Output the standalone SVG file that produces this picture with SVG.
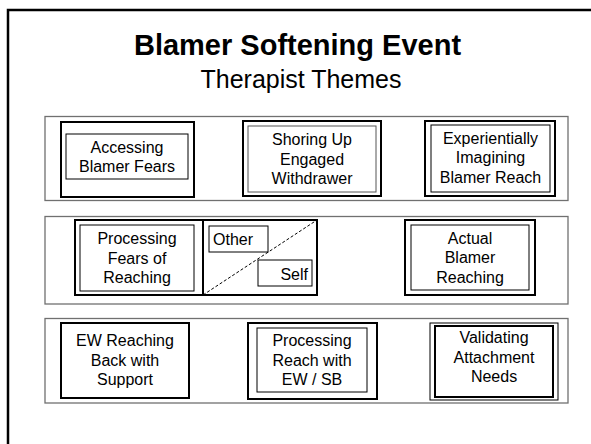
<svg xmlns="http://www.w3.org/2000/svg" width="591" height="444" viewBox="0 0 591 444">
<style>
text{font-family:"Liberation Sans",Arial,sans-serif;fill:#000}
.t{font-size:16px;text-anchor:middle}
.panel{fill:#fff;stroke:#707070;stroke-width:1.3}
.thick{fill:none;stroke:#000;stroke-width:2}
.thin{fill:none;stroke:#000;stroke-width:1}
.grey{fill:none;stroke:#555;stroke-width:1}
</style>
<rect x="0" y="0" width="591" height="444" fill="#fff"/>
<rect id="frame" x="8" y="10" width="620" height="460" fill="none" stroke="#000" stroke-width="2.5"/>
<g id="title">
<text x="297.5" y="55" font-size="29" font-weight="bold" text-anchor="middle">Blamer Softening Event</text>
<text x="301" y="88" font-size="25" text-anchor="middle">Therapist Themes</text>
</g>
<g id="row1">
<rect class="panel" x="45" y="116.5" width="523" height="84"/>
<g id="accessing">
<rect class="thick" x="61" y="122" width="133" height="75"/>
<rect class="thin" x="66" y="134" width="122" height="45"/>
<text class="t" x="127" y="152.5">Accessing</text>
<text class="t" x="127" y="172">Blamer Fears</text>
</g>
<g id="shoring">
<rect class="thick" x="243" y="121" width="138" height="75"/>
<rect class="grey" x="248" y="126" width="128" height="66"/>
<text class="t" x="312" y="145">Shoring Up</text>
<text class="t" x="312" y="164.5">Engaged</text>
<text class="t" x="312" y="184">Withdrawer</text>
</g>
<g id="experientially">
<rect class="thick" x="425" y="121" width="130" height="75"/>
<rect class="thin" x="431" y="125" width="119" height="67"/>
<text class="t" x="490.5" y="143.5">Experientially</text>
<text class="t" x="490.5" y="163">Imagining</text>
<text class="t" x="490.5" y="182.5">Blamer Reach</text>
</g>
</g>
<g id="row2">
<rect class="panel" x="45" y="216.5" width="523" height="87.5"/>
<g id="processing-fears">
<rect class="thick" x="75" y="220" width="242" height="75"/>
<line x1="203" y1="220" x2="203" y2="295" stroke="#000" stroke-width="2"/>
<rect class="thin" x="80" y="225" width="114" height="66"/>
<text class="t" x="137" y="244">Processing</text>
<text class="t" x="137" y="263.5">Fears of</text>
<text class="t" x="137" y="283">Reaching</text>
</g>
<g id="other">
<rect class="thin" x="209" y="226" width="59" height="26"/>
<text x="213" y="245" font-size="16">Other</text>
</g>
<g id="self">
<rect class="thin" x="258" y="260" width="54" height="26"/>
<text x="308" y="280" font-size="16" text-anchor="end">Self</text>
</g>
<g id="actual">
<rect class="thick" x="405" y="220" width="130" height="75"/>
<rect class="thin" x="411" y="225" width="118" height="65"/>
<text class="t" x="470" y="243.5">Actual</text>
<text class="t" x="470" y="263">Blamer</text>
<text class="t" x="470" y="282.5">Reaching</text>
</g>
</g>
<g id="row3">
<rect class="panel" x="45" y="318.5" width="523" height="84.5"/>
<g id="ew-reaching">
<rect class="thick" x="61" y="323" width="128" height="75"/>
<text class="t" x="125" y="346">EW Reaching</text>
<text class="t" x="125" y="365.5">Back with</text>
<text class="t" x="125" y="385">Support</text>
</g>
<g id="processing-reach">
<rect class="thick" x="248" y="323" width="129" height="76"/>
<rect class="thin" x="257" y="328" width="110" height="64"/>
<text class="t" x="312" y="346">Processing</text>
<text class="t" x="312" y="365.5">Reach with</text>
<text class="t" x="312" y="385">EW / SB</text>
</g>
<g id="validating">
<rect class="thin" x="430" y="323" width="128" height="77"/>
<rect class="thick" x="435" y="326" width="118" height="71"/>
<text class="t" x="494" y="343">Validating</text>
<text class="t" x="494" y="362.5">Attachment</text>
<text class="t" x="494" y="382">Needs</text>
</g>
</g>
<g id="connectors">
<line x1="203" y1="295" x2="317" y2="220" stroke="#000" stroke-width="1" stroke-dasharray="3,2"/>
</g>
</svg>
